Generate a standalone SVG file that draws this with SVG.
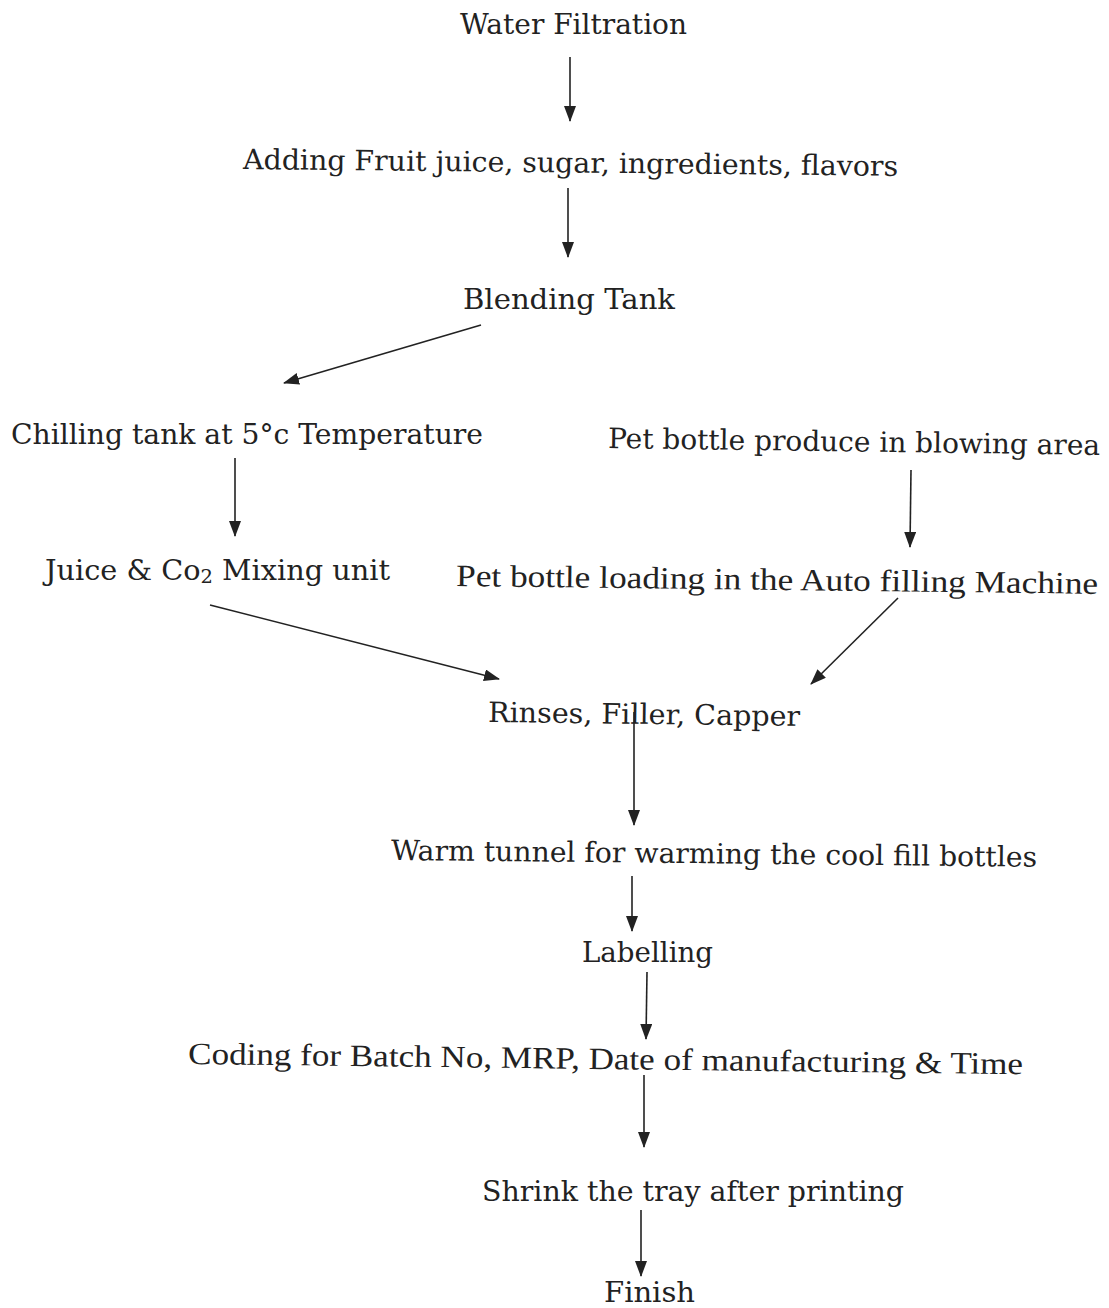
<svg xmlns="http://www.w3.org/2000/svg" width="1109" height="1308" viewBox="0 0 1109 1308">
<style>
.t{font-family:"DejaVu Serif","Liberation Serif",serif;font-size:28px;fill:#222;}
.c{font-family:"Liberation Serif","DejaVu Serif",serif;font-size:31px;fill:#222;}
.e{stroke:#222;stroke-width:1.6;fill:none;marker-end:url(#ah);}
</style>
<defs>
<marker id="ah" viewBox="0 0 16 12" refX="15" refY="6" markerWidth="16" markerHeight="12" markerUnits="userSpaceOnUse" orient="auto">
<path d="M0,0 L16,6 L0,12 z" fill="#222"/>
</marker>
</defs>
<rect width="1109" height="1308" fill="#fff"/>
<g id="n1"><text class="t" x="460" y="34" textLength="227" lengthAdjust="spacingAndGlyphs">Water Filtration</text></g>
<g id="n2"><text class="t" x="243" y="169" textLength="655" lengthAdjust="spacingAndGlyphs" transform="rotate(0.6 243 169)">Adding Fruit juice, sugar, ingredients, flavors</text></g>
<g id="n3"><text class="t" x="463" y="309" textLength="212" lengthAdjust="spacingAndGlyphs">Blending Tank</text></g>
<g id="n4"><text class="t" x="11" y="444" textLength="472" lengthAdjust="spacingAndGlyphs">Chilling tank at 5°c Temperature</text></g>
<g id="n5"><text class="t" x="608" y="448" textLength="492" lengthAdjust="spacingAndGlyphs" transform="rotate(0.8 608 448)">Pet bottle produce in blowing area</text></g>
<g id="n6"><text class="t" x="45" y="580" textLength="345" lengthAdjust="spacingAndGlyphs">Juice &amp; Co<tspan font-size="19" dy="3">2</tspan><tspan dy="-3"> Mixing unit</tspan></text></g>
<g id="n7"><text class="c" x="456" y="586" textLength="642" lengthAdjust="spacingAndGlyphs" transform="rotate(0.7 456 586)">Pet bottle loading in the Auto filling Machine</text></g>
<g id="n8"><text class="t" x="488" y="722" textLength="312" lengthAdjust="spacingAndGlyphs" transform="rotate(0.7 488 722)">Rinses, Filler, Capper</text></g>
<g id="n9"><text class="t" x="391" y="860" textLength="646" lengthAdjust="spacingAndGlyphs" transform="rotate(0.6 391 860)">Warm tunnel for warming the cool fill bottles</text></g>
<g id="n10"><text class="t" x="582" y="962" textLength="131" lengthAdjust="spacingAndGlyphs">Labelling</text></g>
<g id="n11"><text class="c" x="188" y="1064" textLength="835" lengthAdjust="spacingAndGlyphs" transform="rotate(0.7 188 1064)">Coding for Batch No, MRP, Date of manufacturing &amp; Time</text></g>
<g id="n12"><text class="t" x="482" y="1201" textLength="422" lengthAdjust="spacingAndGlyphs">Shrink the tray after printing</text></g>
<g id="n13"><text class="t" x="604" y="1302" textLength="91" lengthAdjust="spacingAndGlyphs">Finish</text></g>
<g id="edges">
<line class="e" x1="570" y1="57" x2="570" y2="121"/>
<line class="e" x1="568" y1="188" x2="568" y2="257"/>
<line class="e" x1="481" y1="325" x2="284" y2="383"/>
<line class="e" x1="235" y1="458" x2="235" y2="536"/>
<line class="e" x1="911" y1="470" x2="910" y2="547"/>
<line class="e" x1="210" y1="605" x2="499" y2="679"/>
<line class="e" x1="898" y1="598" x2="811" y2="684"/>
<line class="e" x1="634" y1="712" x2="634" y2="825"/>
<line class="e" x1="632" y1="876" x2="632" y2="931"/>
<line class="e" x1="647" y1="972" x2="646" y2="1039"/>
<line class="e" x1="644" y1="1075" x2="644" y2="1147"/>
<line class="e" x1="641" y1="1210" x2="641" y2="1276"/>
</g>
</svg>
